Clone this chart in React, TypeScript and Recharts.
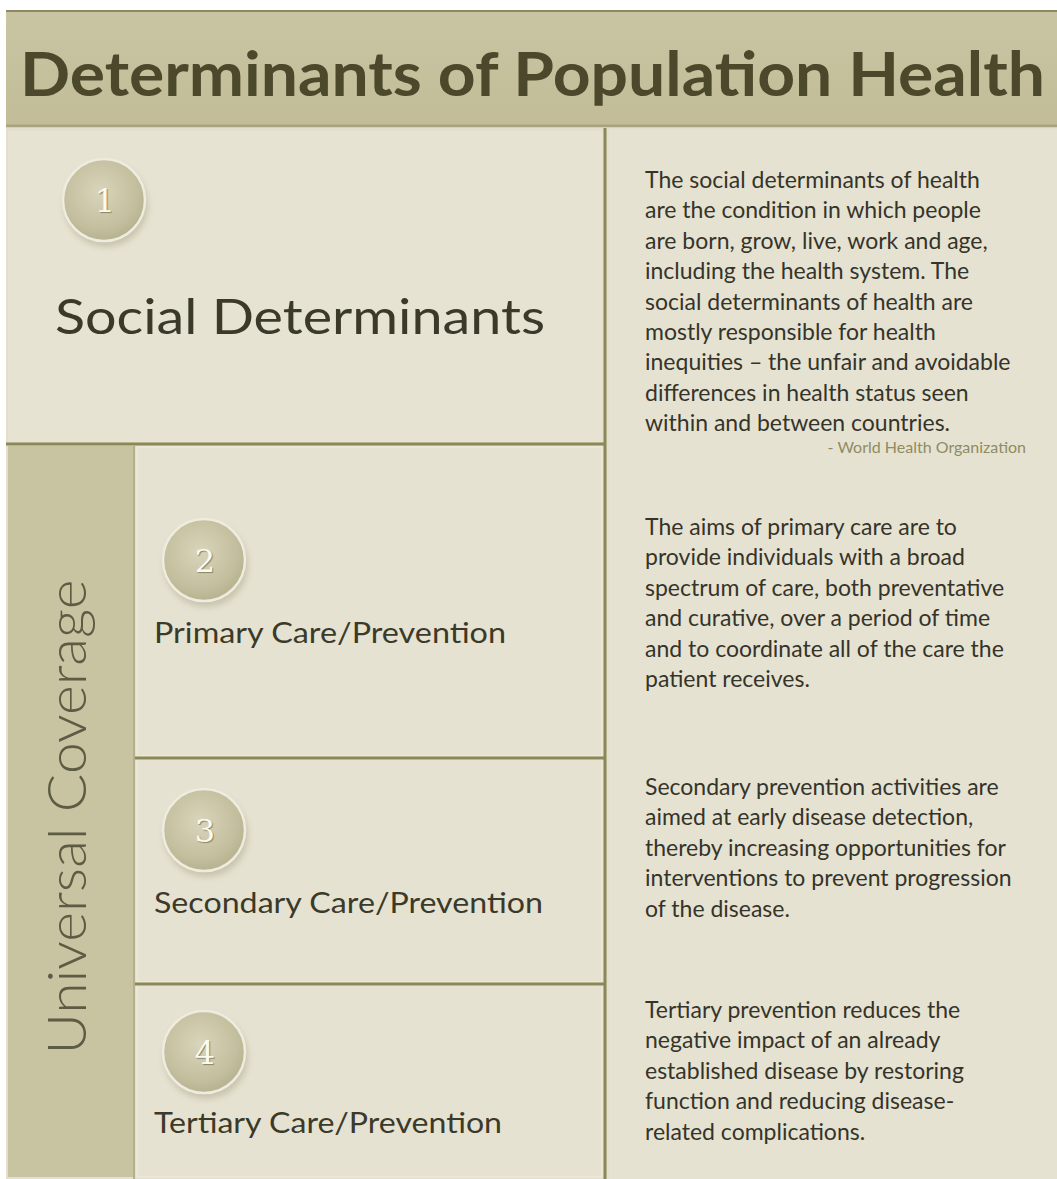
import React from "react";
import {
  ComposedChart,
  XAxis,
  YAxis,
  ReferenceArea,
  ReferenceLine,
  Scatter,
} from "recharts";

// canvas size, axes are mapped 1:1 to pixels
const W = 1057;
const H = 1179;

const chartTitle = "Determinants of Population Health";
const sideLabel = "Universal Coverage";
const stepNumbers = ["1", "2", "3", "4"];
const stepTitles = [
  "Social Determinants",
  "Primary Care/Prevention",
  "Secondary Care/Prevention",
  "Tertiary Care/Prevention",
];
const stepNotes = [
  [
    "The social determinants of health",
    "are the condition in which people",
    "are born, grow, live, work and age,",
    "including the health system.  The",
    "social determinants of health are",
    "mostly responsible for health",
    "inequities \u2013 the unfair and avoidable",
    "differences in health status seen",
    "within and between countries.",
  ],
  [
    "The aims of primary care are to",
    "provide individuals with a broad",
    "spectrum of care, both preventative",
    "and curative, over a period of time",
    "and to coordinate all of the care the",
    "patient receives.",
  ],
  [
    "Secondary prevention activities are",
    "aimed at early disease detection,",
    "thereby increasing opportunities for",
    "interventions to prevent progression",
    "of the disease.",
  ],
  [
    "Tertiary prevention reduces the",
    "negative impact of an already",
    "established disease by restoring",
    "function and reducing disease-",
    "related complications.",
  ],
];
const noteSource = "- World Health Organization";

// layout (pixels)
const rowTop = [131, 447, 759, 985];
const rowBottom = [442, 756, 982, 1177];
const badgeX = [104, 204, 204, 204];
const badgeY = [200, 560, 830, 1052];
const titleX = [55, 154, 154, 154];
const titleY = [334, 643, 913, 1133];
const titleSize = [48, 29, 29, 29];
const titleLen = [490, 352, 389, 348];
const noteY = [188, 535, 795, 1018];

const FONT = "Lato, 'Open Sans', sans-serif";
const OLIVE = "#8a8856";

const badges = stepNumbers.map((n, i) => ({ x: badgeX[i], y: badgeY[i], label: n }));

function Badge(props: any) {
  const { cx, cy, payload } = props;
  return (
    <g>
      <ellipse cx={cx + 2} cy={cy + 5} rx={42} ry={42} fill="#8f8a6a" opacity={0.35} filter="url(#blur)" />
      <circle cx={cx} cy={cy} r={41} fill="url(#badge)" stroke="#eeecdf" strokeWidth={2.5} />
      <text
        x={cx + 1}
        y={cy + 12}
        textAnchor="middle"
        fontFamily="'DejaVu Serif', 'Liberation Serif', serif"
        fontSize={32}
        fill="#fbfaf2"
        style={{ textShadow: "1px 1px 1px #8a8560" }}
      >
        {payload.label}
      </text>
    </g>
  );
}

function Texts() {
  return (
    <svg
      width={W}
      height={H}
      style={{ position: "absolute", left: 0, top: 0, pointerEvents: "none" }}
    >
      <text
        x={20}
        y={96}
        fontFamily={FONT}
        fontWeight={700}
        fontSize={62}
        fill="#4b482c"
        textLength={1025}
        lengthAdjust="spacingAndGlyphs"
      >
        {chartTitle}
      </text>
      <text
        transform="translate(86, 817) rotate(-90)"
        textAnchor="middle"
        fontFamily={FONT}
        fontWeight={300}
        fontSize={54}
        fill="#5d5b44"
        textLength={475}
        lengthAdjust="spacingAndGlyphs"
      >
        {sideLabel}
      </text>
      {stepTitles.map((t, i) => (
        <text
          key={t}
          x={titleX[i]}
          y={titleY[i]}
          fontFamily={FONT}
          fontSize={titleSize[i]}
          fill="#3b3a2a"
          textLength={titleLen[i]}
          lengthAdjust="spacingAndGlyphs"
        >
          {t}
        </text>
      ))}
      {stepNotes.map((lines, i) =>
        lines.map((l, j) => (
          <text
            key={i + "-" + j}
            x={645}
            y={noteY[i] + j * 30.4}
            fontFamily={FONT}
            fontSize={23}
            fill="#35342a"
          >
            {l}
          </text>
        ))
      )}
      <text x={1026} y={453} textAnchor="end" fontFamily={FONT} fontSize={16} fill="#8e8c62">
        {noteSource}
      </text>
    </svg>
  );
}

export default function App() {
  return (
    <div style={{ position: "absolute", left: 0, top: 0, width: W, height: H, background: "#fff" }}>
      <ComposedChart width={W} height={H} margin={{ top: 0, right: 0, bottom: 0, left: 0 }} data={badges}>
        <defs>
          <radialGradient id="badge" cx="45%" cy="40%" r="65%">
            <stop offset="0%" stopColor="#d9d5bb" />
            <stop offset="70%" stopColor="#c3be9d" />
            <stop offset="100%" stopColor="#b2ad8a" />
          </radialGradient>
          <linearGradient id="header" x1="0" y1="0" x2="0" y2="1">
            <stop offset="0%" stopColor="#c9c4a2" />
            <stop offset="100%" stopColor="#c2bd98" />
          </linearGradient>
          <filter id="blur" x="-50%" y="-50%" width="200%" height="200%">
            <feGaussianBlur stdDeviation="3" />
          </filter>
        </defs>
        <XAxis type="number" dataKey="x" domain={[0, W]} hide allowDataOverflow />
        <YAxis type="number" dataKey="y" domain={[0, H]} reversed hide allowDataOverflow />

        {/* header band */}
        <ReferenceArea x1={6} x2={W} y1={10} y2={127} fill="url(#header)" fillOpacity={1} stroke="none" />
        <ReferenceLine segment={[{ x: 6, y: 11 }, { x: W, y: 11 }]} stroke="#8d8a63" strokeWidth={2} />
        <ReferenceLine segment={[{ x: 6, y: 126 }, { x: W, y: 126 }]} stroke="#a9a47e" strokeWidth={3} />

        {/* body */}
        <ReferenceArea x1={6} x2={W} y1={128} y2={H} fill="#e3dfcc" fillOpacity={1} stroke="none" />
        <ReferenceArea x1={8} x2={603} y1={rowTop[0]} y2={rowBottom[0]} fill="#e7e3d2" fillOpacity={1} stroke="none" />
        <ReferenceArea x1={609} x2={W} y1={129} y2={H} fill="#e6e2d1" fillOpacity={1} stroke="none" />
        <ReferenceArea x1={8} x2={133} y1={446} y2={1177} fill="#c8c3a1" fillOpacity={1} stroke="none" />
        {[1, 2, 3].map((i) => (
          <ReferenceArea
            key={i}
            x1={137}
            x2={602}
            y1={rowTop[i]}
            y2={rowBottom[i]}
            fill="#e6e2d1"
            fillOpacity={1}
            stroke="#f1eee2"
            strokeWidth={1}
          />
        ))}

        {/* olive dividers */}
        <ReferenceLine segment={[{ x: 6, y: 444 }, { x: 606, y: 444 }]} stroke={OLIVE} strokeWidth={3} />
        <ReferenceLine segment={[{ x: 133, y: 758 }, { x: 606, y: 758 }]} stroke={OLIVE} strokeWidth={3} />
        <ReferenceLine segment={[{ x: 133, y: 984 }, { x: 606, y: 984 }]} stroke={OLIVE} strokeWidth={3} />
        <ReferenceLine segment={[{ x: 605, y: 128 }, { x: 605, y: H }]} stroke={OLIVE} strokeWidth={3} />
        <ReferenceLine segment={[{ x: 134, y: 446 }, { x: 134, y: H }]} stroke="#b4af8c" strokeWidth={2} />

        <Scatter data={badges} shape={<Badge />} isAnimationActive={false} />
      </ComposedChart>
      <Texts />
    </div>
  );
}
